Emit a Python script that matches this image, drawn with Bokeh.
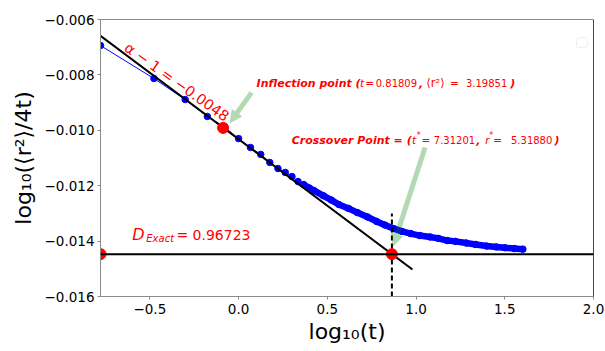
import math

from bokeh.embed import file_html
from bokeh.models import (Arrow, BoxAnnotation, CustomJSTickFormatter, FixedTicker,
                          Label, NormalHead, Range1d, Span)
from bokeh.plotting import figure
from bokeh.resources import INLINE

# ---- data -------------------------------------------------------------
# simulated mean-square displacement, phi = 1/64
log_t = [-0.778, -0.477, -0.301, -0.176, -0.079, 0.000, 0.067, 0.125, 0.176,
         0.222, 0.263, 0.301, 0.335, 0.367, 0.398, 0.426, 0.477, 0.523, 0.565,
         0.620, 0.669, 0.727, 0.778, 0.824, 0.875, 0.921, 0.970, 1.021, 1.079,
         1.125, 1.176, 1.222, 1.283, 1.336, 1.398, 1.452, 1.500, 1.554, 1.602]
log_msd = [-0.00694, -0.00813, -0.00889, -0.00950, -0.00988, -0.01030, -0.01062,
           -0.01087, -0.01116, -0.01138, -0.01152, -0.01167, -0.01185, -0.01196,
           -0.01208, -0.01218, -0.01236, -0.01252, -0.01268, -0.01282, -0.01297,
           -0.01313, -0.01329, -0.01342, -0.01355, -0.01365, -0.01373, -0.01380,
           -0.01385, -0.01390, -0.01398, -0.01401, -0.01407, -0.01412, -0.01418,
           -0.01421, -0.01424, -0.01427, -0.01429]

slope = -0.0048            # alpha - 1 of the short-time fit
t_inflection = 0.81809
msd_inflection = 3.19851
t_cross = 7.31201
r_cross = 5.31880
D_exact = 0.96723

x_min, x_max = -0.778, 2.0
y_min, y_max = -0.016, -0.006
fit_end = 0.98
dash_top = -0.0130

x_ticks = [-0.5, 0.0, 0.5, 1.0, 1.5, 2.0]
y_ticks = [-0.016, -0.014, -0.012, -0.010, -0.008, -0.006]

# ---- derived points ---------------------------------------------------
x_inf = math.log10(t_inflection)
y_inf = math.log10(msd_inflection / (4 * t_inflection))
x_star = math.log10(t_cross)
y_D = math.log10(D_exact)

FONT = "DejaVu Sans"
RED = "#ff0000"

p = figure(width=605, height=351, output_backend="svg", toolbar_location=None,
           x_range=Range1d(x_min, x_max), y_range=Range1d(y_min, y_max),
           min_border_left=100, min_border_right=12, min_border_top=19,
           min_border_bottom=55)
p.grid.visible = False
p.outline_line_color = "#8c8c8c"
p.background_fill_color = "white"
p.border_fill_color = "white"

for ax in (p.xaxis[0], p.yaxis[0]):
    ax.axis_line_color = "#8c8c8c"
    ax.major_tick_line_color = "#8c8c8c"
    ax.major_tick_out = 3
    ax.major_tick_in = 0
    ax.minor_tick_line_color = None
    ax.major_label_text_font = FONT
    ax.major_label_text_font_size = "13.5px"
    ax.major_label_text_color = "black"
    ax.axis_label_text_font = FONT
    ax.axis_label_text_font_size = "22px"
    ax.axis_label_text_font_style = "normal"
    ax.axis_label_text_color = "black"

p.xaxis.ticker = FixedTicker(ticks=x_ticks)
p.yaxis.ticker = FixedTicker(ticks=y_ticks)
p.xaxis.formatter = CustomJSTickFormatter(code="return tick.toFixed(1).replace('-', '\u2212');")
p.yaxis.formatter = CustomJSTickFormatter(code="return tick.toFixed(3).replace('-', '\u2212');")
p.xaxis.major_label_standoff = 4
p.yaxis.major_label_standoff = 3
p.xaxis.axis_label = "log\u2081\u2080(t)"
p.yaxis.axis_label = "log\u2081\u2080(\u27e8r\u00b2\u27e9/4t)"
p.xaxis.axis_label_standoff = 2
p.yaxis.axis_label_standoff = 6

# right spine in black
p.add_layout(Span(location=x_max, dimension="height", line_color="black", line_width=1))

# simulation data: thin connecting line, merged band at late times, markers
p.line(log_t, log_msd, line_color="blue", line_width=1)
p.line(log_t[13:], log_msd[13:], line_color="blue", line_width=6.5, line_cap="round",
       line_join="round")
p.scatter(log_t, log_msd, marker="circle", size=6.5, fill_color="blue", line_color="blue")

# D_exact level and the power-law fit
p.add_layout(Span(location=y_D, dimension="width", line_color="black", line_width=2))
fit_x = [x_min, fit_end]
fit_y = [y_D + slope * (x - x_star) for x in fit_x]
p.line(fit_x, fit_y, line_color="black", line_width=2)
p.line([x_star, x_star], [y_min, dash_top], line_color="black", line_width=2,
       line_dash="5 3")

# highlighted points
p.scatter([x_inf, x_star, x_min], [y_inf, y_D, y_D], marker="circle", size=11,
          fill_color=RED, line_color=RED)

# arrows
for xs, ys, xe, ye in [(0.073, -0.00864, -0.051, -0.00975),
                       (1.051, -0.01062, 0.870, -0.01420)]:
    p.add_layout(Arrow(x_start=xs, y_start=ys, x_end=xe, y_end=ye,
                       line_color="green", line_alpha=0.3, line_width=5,
                       end=NormalHead(size=13, fill_color="green", fill_alpha=0.3,
                                      line_alpha=0)))


def txt(x, y, s, size, style="normal", angle=0.0, align="left"):
    p.add_layout(Label(x=x, y=y, text=s, text_font=FONT, text_font_size=size,
                       text_font_style=style, text_color=RED, text_align=align,
                       text_baseline="middle", angle=angle))


BOLD = "11px"
MATH = "10.5px"
NUM = "10px"

# inflection annotation
yr = -0.00831
txt(0.1017, yr, "Inflection point (", BOLD, "bold italic")
txt(0.684, yr, "t", MATH, "italic")
txt(0.714, yr, "=", MATH)
txt(1.006, yr, f"{t_inflection:.5f}", NUM, align="right")
txt(1.017, yr, ",", BOLD, "bold italic")
txt(1.058, yr, "\u27e8r\u00b2\u27e9", "11.5px")
txt(1.192, yr, "=", MATH)
txt(1.514, yr, f"{msd_inflection:.5f}", NUM, align="right")
txt(1.531, yr, ")", BOLD, "bold italic")

# crossover annotation
yc = -0.010368
txt(0.2994, yc, "Crossover Point = (", BOLD, "bold italic")
txt(0.977, yc, "t", MATH, "italic")
txt(1.004, yc + 0.00018, "*", "8px")
txt(1.031, yc, "=", MATH)
txt(1.333, yc, f"{t_cross:.5f}", NUM, align="right")
txt(1.339, yc, ",", BOLD, "bold italic")
txt(1.390, yc, "r", MATH, "italic")
txt(1.412, yc + 0.00018, "*", "8px")
txt(1.435, yc, "=", MATH)
txt(1.768, yc, f"{r_cross:.5f}", NUM, align="right")
txt(1.780, yc, ")", BOLD, "bold italic")

# slope and diffusion labels
txt(-0.6328, -0.006950, "\u03b1 \u2212 1 = \u22120.0048", "14.5px", angle=-0.62)
txt(-0.5989, -0.013762, "D", "16px", "italic")
txt(-0.520, -0.013920, "Exact", "10px", "italic")
txt(-0.3503, -0.013762, "= " + f"{D_exact:.5f}", "14px")

# title
p.add_layout(Label(x=0.625, y=-0.005657, text="\u03d5 = 1/64", text_font=FONT,
                   text_font_size="14px", text_color="black", text_align="center",
                   text_baseline="middle"))

# empty legend frame
p.add_layout(BoxAnnotation(left=1.904, right=1.966, bottom=-0.00701, top=-0.00665,
                           fill_color="white", fill_alpha=1.0, line_color="#cccccc",
                           line_width=1, border_radius=2))

open("out.html", "w").write(file_html(p, INLINE))
